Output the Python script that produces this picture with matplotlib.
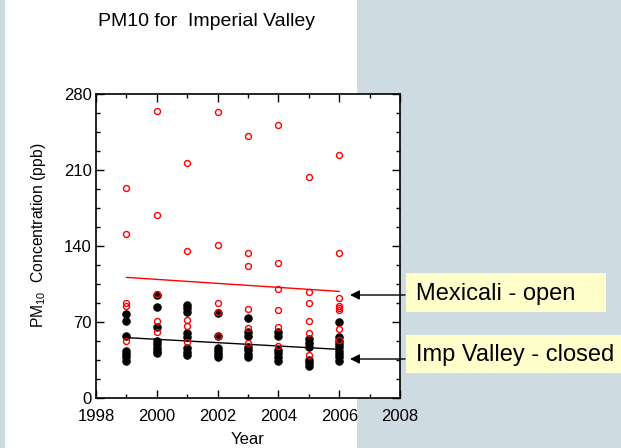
import matplotlib
matplotlib.use("Agg")
import matplotlib.pyplot as plt
from matplotlib.patches import Rectangle
from matplotlib.ticker import MultipleLocator

plt.rcParams['font.family'] = ['Liberation Sans', 'DejaVu Sans']
plt.rcParams['mathtext.default'] = 'regular'

# ---- data ----
mex_years = [1999]*5 + [2000]*5 + [2001]*5 + [2002]*5 + [2003]*6 + [2004]*6 + [2005]*6 + [2006]*8
mex_values = [193.7, 150.8, 87.2, 85.0, 52.5,
              264.0, 168.3, 95.5, 70.6, 60.5,
              216.7, 135.4, 71.8, 66.6, 51.3,
              263.1, 141.2, 87.8, 79.5, 57.5,
              241.0, 133.6, 121.3, 81.7, 64.2, 50.4,
              251.8, 124.0, 100.1, 81.0, 65.1, 47.9,
              203.5, 97.3, 87.2, 71.2, 59.6, 39.6,
              224.1, 133.6, 91.8, 84.7, 82.6, 81.0, 63.2, 53.4]

imp_years = [1999]*7 + [2000]*8 + [2001]*8 + [2002]*6 + [2003]*7 + [2004]*6 + [2005]*6 + [2006]*9
imp_values = [77.1, 70.9, 57.1, 43.6, 40.5, 37.5, 34.4,
              94.9, 84.0, 65.7, 52.5, 49.4, 46.3, 43.3, 41.1,
              85.7, 82.6, 79.5, 59.6, 56.5, 45.8, 42.7, 39.6,
              78.6, 57.1, 46.3, 43.3, 40.2, 38.0,
              74.0, 60.5, 57.5, 47.3, 44.2, 40.5, 37.5,
              60.5, 57.4, 44.2, 41.1, 37.5, 34.4,
              54.0, 50.4, 47.3, 35.0, 32.0, 29.5,
              70.3, 55.9, 52.8, 49.7, 46.7, 43.6, 40.5, 37.5, 34.4]

trend_years = [1999, 2006]
mex_trend = [111.1, 98.2]
imp_trend = [55.6, 44.8]

x_ticks = [1998, 2000, 2002, 2004, 2006, 2008]
y_ticks = [0, 70, 140, 210, 280]

# ---- figure ----
W, H = 621, 448
fig = plt.figure(figsize=(W/100, H/100), dpi=100, facecolor='#CEDBE2')
fig.patches.append(Rectangle((5/W, 0), (357-5)/W, 1, transform=fig.transFigure,
                             facecolor='white', edgecolor='none', zorder=-2))

ax = fig.add_axes([96/W, 1-398/H, 304/W, 304/H])
ax.set_zorder(2)
ax.set_xlim(1998, 2008)
ax.set_ylim(0, 280)
ax.set_xticks(x_ticks)
ax.set_yticks(y_ticks)
ax.xaxis.set_minor_locator(MultipleLocator(1))
ax.yaxis.set_minor_locator(MultipleLocator(17.5))
ax.tick_params(which='both', direction='in', top=True, right=True, labelsize=12, width=1)
ax.tick_params(axis='x', which='both', pad=8)
ax.tick_params(axis='y', which='both', pad=3)
ax.tick_params(which='major', length=6)
ax.tick_params(which='minor', length=3)
for s in ax.spines.values():
    s.set_linewidth(1.2)

ax.plot(imp_years, imp_values, 'o', ms=5.3, mfc='black', mec='black', mew=0.8, zorder=3)
ax.plot(mex_years, mex_values, 'o', ms=4.3, mfc='none', mec='red', mew=1.0, zorder=4)
ax.plot(trend_years, mex_trend, '-', color='red', lw=1.0, zorder=2)
ax.plot(trend_years, imp_trend, '-', color='black', lw=1.0, zorder=2)

ax.set_xlabel('Year', fontsize=12, labelpad=6)
ax.set_ylabel('PM$_{10}$  Concentration (ppb)', fontsize=11.3)
ax.yaxis.set_label_coords(-0.158, 0.536)

fig.text(207/W, 1-21/H, 'PM10 for  Imperial Valley', ha='center', va='center', fontsize=14)

# label boxes
for (x0, y0, x1, y1, txt, tipy) in [(406, 273, 606, 312, 'Mexicali - open', 295),
                                     (406, 335, 625, 373, 'Imp Valley - closed', 359)]:
    fig.patches.append(Rectangle((x0/W, 1-y1/H), (x1-x0)/W, (y1-y0)/H, transform=fig.transFigure,
                                 facecolor='#FFFFCC', edgecolor='none', zorder=-1))
    fig.text(416/W, 1-((y0+y1)/2 + 1)/H, txt, ha='left', va='center', fontsize=17, zorder=3)
    ax.annotate('', xy=(350/W, 1-tipy/H), xycoords='figure fraction',
                xytext=(405/W, 1-tipy/H), textcoords='figure fraction',
                arrowprops=dict(arrowstyle='-|>', color='black', lw=1.0,
                                mutation_scale=14, shrinkA=0, shrinkB=0))

fig.savefig('out.png', dpi=100, facecolor=fig.get_facecolor())
